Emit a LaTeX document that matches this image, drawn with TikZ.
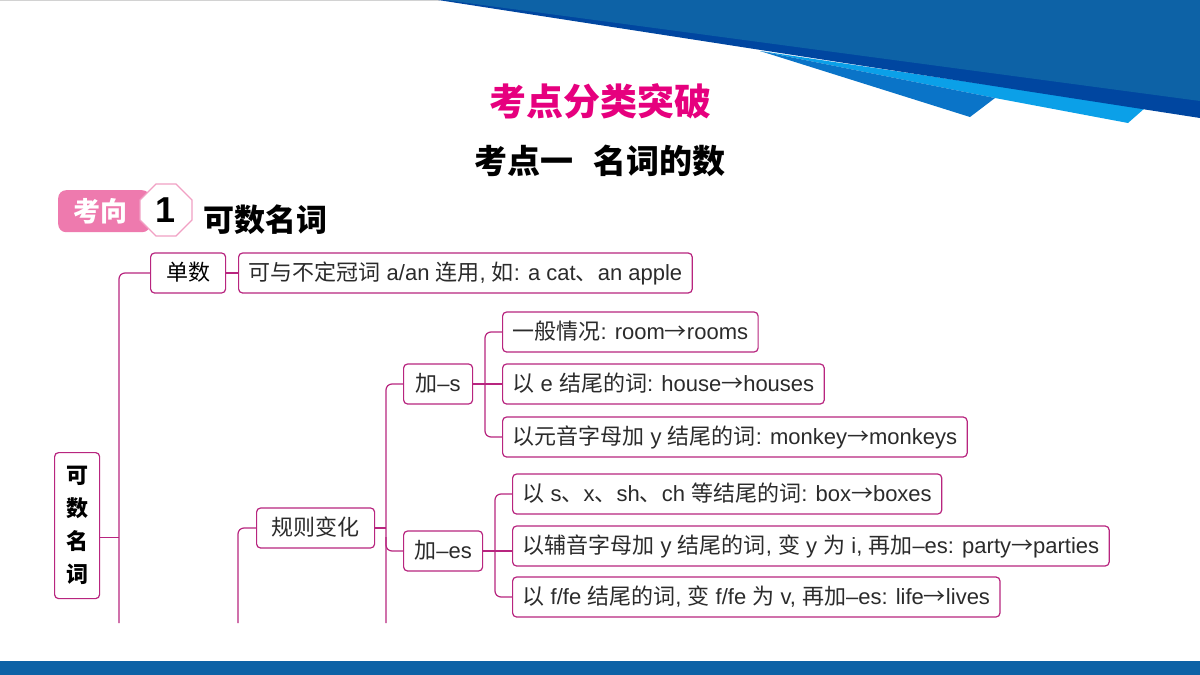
\documentclass[tikz,border=0pt]{standalone}
\usepackage{fontspec}
\setmainfont{Liberation Sans}
\newfontfamily\cjk{Noto Sans CJK SC}
\usetikzlibrary{calc,shapes.misc}
\definecolor{lc}{HTML}{B8257F}
\definecolor{txt}{HTML}{2B2B2B}
\definecolor{tc}{HTML}{E6007E}
\definecolor{pinkb}{HTML}{EE7AAE}
\definecolor{pinkl}{HTML}{F1A0C4}
\definecolor{mainb}{HTML}{0D62A6}
\definecolor{darkb}{HTML}{0046A0}
\definecolor{midb}{HTML}{0A74C8}
\definecolor{cyanb}{HTML}{0BA0E8}
\newcommand\zh[1]{{\cjk #1}}
\newcommand\ar{{\cjk →}}
\tikzset{
  tbox/.style={draw=lc, line width=1.2pt, rounded corners=4pt, fill=white,
    minimum height=40pt, inner xsep=10pt, inner ysep=0pt, text=txt,
    font=\fontsize{22}{26}\selectfont},
  tline/.style={tbox, anchor=west, text height=17pt, text depth=2pt},
  conn/.style={draw=lc, line width=1.2pt, rounded corners=6pt},
}
\begin{document}
\begin{tikzpicture}[x=1pt,y=-1pt]
\useasboundingbox (0,0) rectangle (1200,675);
\fill[white] (0,0) rectangle (1200,675);
% top decoration
\draw[gray!35, line width=1.2pt] (0,0.6) -- (440,0.6);
\fill[cyanb] (760,51) -- (1145,108) -- (1128,123) -- (995,98) -- cycle;
\fill[midb] (760,51) -- (995,98) -- (970,117) -- cycle;
\fill[darkb] (438,0) -- (1200,0) -- (1200,118) -- cycle;
\fill[mainb] (445,0) -- (1200,0) -- (1200,101) -- cycle;
% bottom bar
\fill[mainb] (0,661) rectangle (1200,675);
% titles
\node[font=\cjk\bfseries\fontsize{37}{40}\selectfont, text=tc] (title) at (600,101) {考点分类突破};
\node[font=\cjk\bfseries\fontsize{33}{38}\selectfont, text=black] (sub) at (600,161) {考点一\hspace{0.6em}名词的数};
% badge
\node[fill=pinkb, rounded corners=8pt, minimum width=92pt, minimum height=42pt, anchor=north west, inner sep=0pt,
      text=white, font=\cjk\bfseries\fontsize{27}{30}\selectfont] (kx) at (58,190) {\hspace{-8pt}考向};
\node[chamfered rectangle, chamfered rectangle xsep=8pt, chamfered rectangle ysep=8pt, draw=pinkl, line width=1.2pt,
      fill=white, minimum width=52pt, minimum height=52pt, inner sep=0pt,
      font=\bfseries\fontsize{36}{40}\selectfont] (one) at (166,210) {1};
\node[anchor=west, font=\cjk\bfseries\fontsize{31}{34}\selectfont, text=black] (hd) at (200,220) {可数名词};
% tree nodes
\node[tbox, anchor=north west, minimum width=45pt, minimum height=146pt, inner sep=0pt, align=center,
      font=\cjk\bfseries\fontsize{22}{33}\selectfont, text=black] (kv) at (54,452) {可\\数\\名\\词};
\node[tline, minimum width=75pt, text=black] (ds) at (150,273) {\zh{单数}};
\node[tline] (d1) at (238,273) {\zh{可与不定冠词} a/an \zh{连用}, \zh{如}: a cat\zh{、}an apple};
\node[tline, minimum width=118pt] (gz) at (256,528) {\zh{规则变化}};
\node[tline, minimum width=69pt] (js) at (403,384) {\zh{加}–s};
\node[tline, minimum width=79pt] (jes) at (403,551) {\zh{加}–es};
\node[tline] (s1) at (502,332) {\zh{一般情况}: room\ar rooms};
\node[tline] (s2) at (502,384) {\zh{以} e \zh{结尾的词}: house\ar houses};
\node[tline] (s3) at (502,437) {\zh{以元音字母加} y \zh{结尾的词}: monkey\ar monkeys};
\node[tline] (e1) at (512,494) {\zh{以} s\zh{、}x\zh{、}sh\zh{、}ch \zh{等结尾的词}: box\ar boxes};
\node[tline] (e2) at (512,546) {\zh{以辅音字母加} y \zh{结尾的词}, \zh{变} y \zh{为} i, \zh{再加}–es: party\ar parties};
\node[tline] (e3) at (512,597) {\zh{以} f/fe \zh{结尾的词}, \zh{变} f/fe \zh{为} v, \zh{再加}–es: life\ar lives};
% connector coordinates
\coordinate (m1) at (119,623);
\coordinate (m2) at (238,623);
\coordinate (m3) at (386,623);
\coordinate (v4) at (485,384);
\coordinate (v5) at (495,551);
% connectors
\draw[conn] (m1) |- (ds.west);
\draw[conn] ([yshift=-12pt]kv.east) -- ($([yshift=-12pt]kv.east)!1!([yshift=-12pt]kv.east -| m1)$);
\draw[conn] (ds.east) -- (d1.west);
\draw[conn] (m2) |- (gz.west);
\draw[conn] (m3) |- (js.west);
\draw[conn] (gz.east) -- (gz.east -| m3);
\draw[conn] (jes.west -| m3) ++(0,-14) |- (jes.west);
\draw[conn] (s1.west) -| (v4) |- (s3.west);
\draw[conn] (js.east) -- (s2.west);
\draw[conn] (e1.west) -| (v5) |- (e3.west);
\draw[conn] (jes.east) -- (jes.east -| e2.west);
\end{tikzpicture}
\end{document}
